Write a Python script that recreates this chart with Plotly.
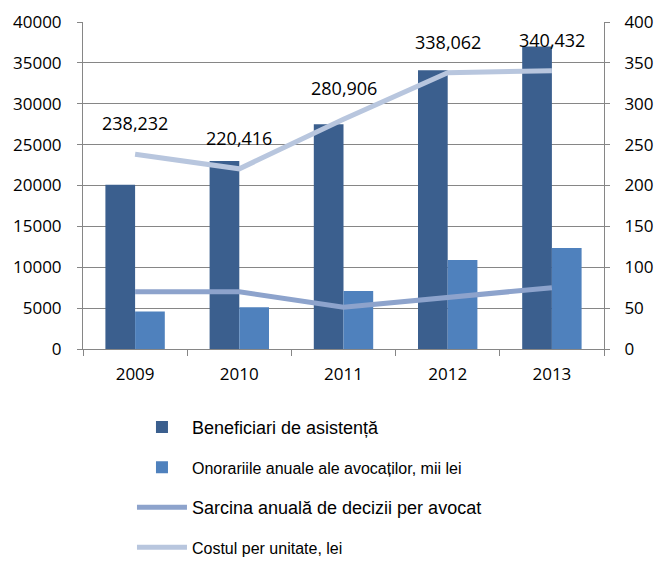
import plotly.graph_objects as go

years = ["2009", "2010", "2011", "2012", "2013"]
beneficiari = [20100, 23000, 27500, 34100, 37000]
onorarii = [4600, 5100, 7100, 10900, 12350]
sarcina = [70, 70, 51, 63, 75]
cost = [238.232, 220.416, 280.906, 338.062, 340.432]

names = [
    '<span style="font-size:18px">Beneficiari de asistență</span>',
    '<span style="font-size:16px">Onorariile anuale ale avocaților, mii lei</span>',
    '<span style="font-size:18px">Sarcina anuală de decizii per avocat</span>',
    '<span style="font-size:16px">Costul per unitate, lei</span>',
]

fig = go.Figure()
fig.add_trace(go.Bar(x=years, y=beneficiari, name=names[0], marker_color="#3B5F8E",
                     marker_line_width=0, legendgroup="a", yaxis="y"))
fig.add_trace(go.Bar(x=years, y=onorarii, name=names[1], marker_color="#4F81BD",
                     marker_line_width=0, legendgroup="b", yaxis="y"))
fig.add_trace(go.Scatter(x=years, y=sarcina, name=names[2], mode="lines",
                         line=dict(color="#8DA3CC", width=5), legendgroup="c", yaxis="y2"))
fig.add_trace(go.Scatter(x=years, y=cost, name=names[3], mode="lines",
                         line=dict(color="#B8C6DE", width=5), legendgroup="d", yaxis="y2"))

for i, v in enumerate(cost):
    fig.add_annotation(x=i, y=v, xref="x", yref="y2", text=f"{v:.3f}".replace(".", ","),
                       showarrow=False, yshift=31,
                       font=dict(family="Open Sans", size=18, color="#000"))

axis_font = dict(family="Open Sans", size=17, color="#000")
fig.update_layout(
    width=659, height=561,
    margin=dict(l=83, r=55, t=22, b=212, autoexpand=False),
    paper_bgcolor="white", plot_bgcolor="white",
    barmode="group", bargap=0.43, bargroupgap=0,
    showlegend=True,
    legend=dict(x=0.094, y=-0.185, xanchor="left", yanchor="top",
                font=dict(family="Liberation Sans", size=17, color="#000"),
                tracegroupgap=15, traceorder="grouped", itemwidth=50,
                bgcolor="rgba(0,0,0,0)"),
    xaxis=dict(type="category", range=[-0.5, 4.5], tickfont=axis_font, showline=True,
               linecolor="#868686", linewidth=1, ticks="outside", tickson="boundaries",
               ticklen=6, tickcolor="#868686", showgrid=False, tickangle=0,
               automargin=False, ticklabelstandoff=10),
    yaxis=dict(range=[0, 40000], dtick=5000, tickfont=axis_font, showline=True,
               linecolor="#868686", linewidth=1, ticks="outside", ticklen=5,
               tickcolor="#868686", gridcolor="#868686", gridwidth=1,
               zeroline=False, ticklabelstandoff=12, tickformat="d", automargin=False),
    yaxis2=dict(range=[0, 400], dtick=50, overlaying="y", side="right",
                tickfont=axis_font, showline=True, linecolor="#868686", linewidth=1,
                ticks="outside", ticklen=5, tickcolor="#868686", showgrid=False,
                zeroline=False, ticklabelstandoff=11, tickformat="d", automargin=False),
)

fig.write_html(
    "out.html",
    config={"displayModeBar": False},
    post_script="document.body.style.margin='0';document.body.style.overflow='hidden';",
)
